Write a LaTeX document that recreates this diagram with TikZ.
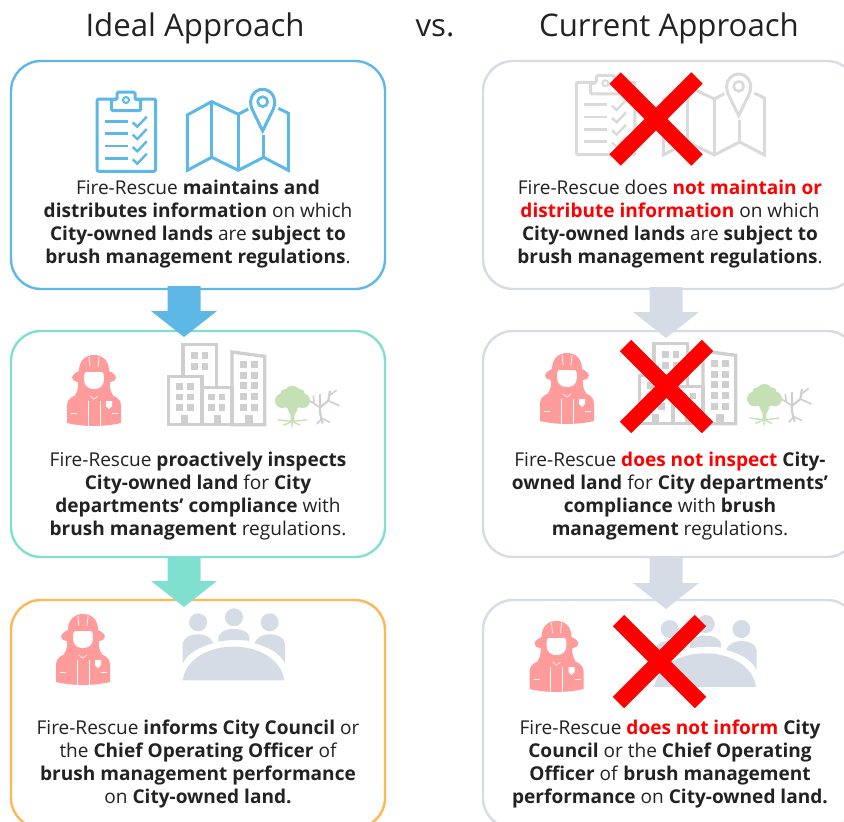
\documentclass[tikz,border=0pt]{standalone}
\usepackage{fontspec}
\setmainfont{Open Sans}
\usetikzlibrary{positioning, calc}

\definecolor{idealblue}{HTML}{5DB8E8}
\definecolor{idealteal}{HTML}{7FE0D0}
\definecolor{idealorange}{HTML}{FFB655}
\definecolor{slategrey}{HTML}{D6DCE5}
\definecolor{stonegrey}{HTML}{CFCFCF}
\definecolor{fadedgrey}{HTML}{DADADA}
\definecolor{firepink}{HTML}{FF9B9B}
\definecolor{treegreen}{HTML}{C5E0B4}
\definecolor{deadtree}{HTML}{D2CECE}
\definecolor{inktext}{HTML}{222222}

\newcommand{\bad}[1]{\textcolor{red}{\textbf{#1}}}

\tikzset{
  panel/.style={draw, rounded corners=30pt, line width=2.4pt, minimum width=374pt,
    minimum height=228pt, outer sep=0pt, fill=white},
  bodytext/.style={align=center, text=inktext, inner sep=0pt,
    font=\fontsize{19.05}{23}\selectfont},
  headline/.style={text=inktext, inner sep=0pt, font=\fontsize{31.2}{36}\selectfont},
  icon/.style={x=0.3333pt, y=-0.3333pt},
  blockdown/.pic={
    \fill[#1] (-16.5,0) -- (16.5,0) -- (16.5,25) -- (33,25) -- (0,51) -- (-33,25) -- (-16.5,25) -- cycle;
  },
  redcross/.pic={
    \draw[red, line width=16pt] (-41,-41) -- (41,41);
    \draw[red, line width=16pt] (-41,41) -- (41,-41);
  },
  clipboard/.pic={
    \draw[#1, line width=3pt, rounded corners=2pt] (4,25) rectangle (180,242);
    \draw[#1, fill=white, line width=3pt, rounded corners=1.5pt]
      (47,27) -- (47,60) -- (135,60) -- (135,27) -- (118,27) -- (118,4) -- (64,4) -- (64,27) -- cycle;
    \draw[#1, line width=2pt] (91,28) circle (9);
    \foreach \r in {0,1,2,3} {
      \draw[#1, line width=2.4pt] (28,{92+37*\r}) -- (96,{92+37*\r});
      \draw[#1, line width=2.4pt] (111,{95+37*\r}) -- (125,{108+37*\r}) -- (153,{78+37*\r});
    }
  },
  foldmap/.pic={
    \draw[#1, line width=3pt] (187,62) -- (157,78) -- (77,40) -- (4,80) -- (4,246) -- (77,207)
      -- (157,246) -- (233,207) -- (307,246) -- (307,75) -- (277,60);
    \draw[#1, line width=3pt] (77,40) -- (77,207);
    \draw[#1, line width=3pt] (157,78) -- (157,246);
    \draw[#1, line width=3pt] (233,140) -- (233,207);
    \draw[#1, line width=3pt] (230,128) -- (198,62) .. controls (185,30) and (205,3) .. (230,3)
      .. controls (255,3) and (275,30) .. (262,62) -- cycle;
    \draw[#1, line width=2.6pt] (230,40) circle (15);
  },
  fighter/.pic={
    % coat and hood
    \fill[firepink] (-27,33) -- (-27,15) .. controls (-27,8) and (-20,6) .. (-14,3) -- (14,3)
      .. controls (20,6) and (27,8) .. (27,15) -- (27,33) .. controls (10,37) and (-10,37) .. (-27,33);
    \fill[firepink] (-19,5) .. controls (-15,-1) and (-16,-5) .. (-16,-8) .. controls (-24,-9) and (-24,-15) .. (-15,-19)
      .. controls (-15,-30) and (-8,-35) .. (0,-35) .. controls (8,-35) and (15,-30) .. (15,-19)
      .. controls (24,-15) and (24,-9) .. (16,-8) .. controls (16,-5) and (15,-1) .. (19,5) -- cycle;
    % face and white details
    \fill[white] (-8,-18) -- (8,-18) .. controls (11,-17) and (10,-8) .. (9,-6) .. controls (7,-2) and (3,-1) .. (0,-1)
      .. controls (-3,-1) and (-7,-2) .. (-9,-6) .. controls (-10,-8) and (-11,-17) .. (-8,-18);
    \draw[white, line width=0.8pt] (-6,11) -- (-6,37);
    \draw[white, line width=0.4pt] (6,11) -- (6,37);
    \draw[white, line width=0.7pt] (-5,-33) -- (-4,-23);
    \draw[white, line width=0.7pt] (5,-33) -- (4,-23);
    \draw[white, line width=0.8pt] (-23,23) -- (-17,23);
    \draw[white, line width=0.8pt] (18,23) -- (24,23);
    \draw[white, line width=0.6pt] (-4,6) -- (0,9) -- (4,6);
    \fill[white] (12,11) -- (18,11) -- (18,16) -- (15,19) -- (12,16) -- cycle;
  },
  towers/.pic={
    \draw[stonegrey, line width=3.3pt] (48,100) -- (48,5) -- (148,5) -- (148,133);
    \draw[stonegrey, line width=3.3pt] (5,100) rectangle (105,245);
    \draw[stonegrey, line width=3.3pt] (105,133) rectangle (195,245);
    \draw[stonegrey, line width=3.3pt] (195,27) -- (293,40) -- (293,245) -- (195,245) -- cycle;
    \foreach \wx/\wy in {28/120,60/120,28/152,60/152,28/183,60/183,72/28,104/28,72/60,104/60,
      123/152,155/152,123/183,155/183,220/55,252/55,220/87,252/87,220/118,252/118,220/151,252/151,220/183,252/183} {
      \fill[stonegrey] (\wx,\wy) rectangle ++(20,20);
    }
    \foreach \wx in {42,140,235} {
      \fill[stonegrey] (\wx,215) rectangle ++(22,35);
    }
  },
  trees/.pic={
    % live tree
    \fill[treegreen] (22,45) circle (22);
    \fill[treegreen] (83,45) circle (22);
    \fill[treegreen] (52,24) circle (24);
    \fill[treegreen] (30,24) circle (14);
    \fill[treegreen] (75,24) circle (14);
    \fill[treegreen] (52,45) circle (28);
    \fill[treegreen] (38,70) -- (68,70) -- (58,90) -- (58,105) -- (47,105) -- (47,90) -- cycle;
    \foreach \rx/\ry in {8/102,25/118,50/124,75/118,97/102} {
      \draw[treegreen, line width=1.3pt] (52,98) .. controls (52,108) .. (\rx,\ry);
    }
    % dead tree
    \draw[deadtree, line width=2.2pt] (143,113) .. controls (140,100) and (133,85) .. (135,65) -- (160,45) -- (165,15);
    \draw[deadtree, line width=1.6pt] (135,65) -- (103,45);
    \draw[deadtree, line width=1.6pt] (118,55) -- (115,30);
    \draw[deadtree, line width=1.6pt] (135,65) -- (135,25);
    \draw[deadtree, line width=1.6pt] (160,45) -- (193,60);
    \draw[deadtree, line width=1.6pt] (163,30) -- (185,13);
    \draw[deadtree, line width=1.6pt] (141,98) -- (125,115);
    \draw[deadtree, line width=1.6pt] (141,98) -- (165,110);
  },
  meeting/.pic={
    \fill[slategrey] (0,216) .. controls (10,150) and (80,115) .. (152,115) .. controls (225,115) and (295,150) .. (305,216) -- cycle;
    \fill[slategrey] (46,42) circle (27);
    \fill[slategrey] (154,27) circle (27);
    \fill[slategrey] (261,42) circle (27);
    \fill[slategrey] (0,165) -- (0,105) .. controls (5,85) and (25,78) .. (46,78) .. controls (65,78) and (85,85) .. (92,105) .. controls (50,115) and (15,135) .. (0,165);
    \fill[slategrey] (107,100) -- (107,85) .. controls (115,68) and (130,62) .. (153,62) .. controls (175,62) and (195,68) .. (200,85) -- (200,98) .. controls (170,93) and (135,95) .. (107,100);
    \fill[slategrey] (307,165) -- (307,105) .. controls (302,85) and (282,78) .. (261,78) .. controls (242,78) and (222,85) .. (215,105) .. controls (257,115) and (292,135) .. (307,165);
  },
}

\begin{document}
\begin{tikzpicture}[x=1pt, y=-1pt]
\useasboundingbox (0,0) rectangle (844,822);
\clip (0,0) rectangle (844,822);

% Headings
\node[headline] (idealhead) at (195,28) {Ideal Approach};
\node[headline] (vshead) at (435,28) {vs.};
\node[headline] (currenthead) at (669,28) {Current Approach};

% Ideal column
\node[panel, draw=idealblue] (idealA) at (198,175) {};
\node[panel, draw=idealteal, minimum height=226pt] (idealB) at (198,444) {};
\node[panel, draw=idealorange] (idealC) at (198,714) {};
\pic at ($(idealA.south)+(-14,-3)$) {blockdown=idealblue};
\pic at ($(idealB.south)+(-14,-1)$) {blockdown=idealteal};

% Current column
\node[panel, draw=slategrey] (currentA) at (670,175) {};
\node[panel, draw=slategrey, minimum height=226pt] (currentB) at (670,444) {};
\node[panel, draw=slategrey] (currentC) at (670,714) {};
\pic at ($(currentA.south)+(-4,-2)$) {blockdown=slategrey};
\pic at ($(currentB.south)+(-4,1)$) {blockdown=slategrey};

% Icons, ideal side
\path (95.7,90.7) pic[icon] {clipboard=idealblue};
\path (186,88.3) pic[icon] {foldmap=idealblue};
\pic at (94,390) {fighter};
\path (167,343) pic[icon] {towers};
\path (275,385.7) pic[icon] {trees};
\pic at (83,649) {fighter};
\path (182.7,608.3) pic[icon] {meeting};

% Icons, current side
\path (575,74) pic[icon] {clipboard=fadedgrey};
\path (662,73) pic[icon] {foldmap=fadedgrey};
\pic at (567,388) {fighter};
\path (638,342) pic[icon] {towers};
\path (747,384) pic[icon] {trees};
\pic at (556.5,656) {fighter};
\path (654.4,615) pic[icon] {meeting};

% Crosses
\pic at (656,119) {redcross};
\pic at (666.5,386.5) {redcross};
\pic at (659.5,661.5) {redcross};

% Text, ideal side
\node[bodytext] (idealAtext) at (198,224.5) {Fire-Rescue \textbf{maintains and}\\ \textbf{distributes information} on which\\ \textbf{City-owned lands} are \textbf{subject to}\\ \textbf{brush management regulations}.};
\node[bodytext] (idealBtext) at (198,496) {Fire-Rescue \textbf{proactively inspects}\\ \textbf{City-owned land} for \textbf{City}\\ \textbf{departments' compliance} with\\ \textbf{brush management} regulations.};
\node[bodytext] (idealCtext) at (198,764) {Fire-Rescue \textbf{informs City Council} or\\ the \textbf{Chief Operating Officer} of\\ \textbf{brush management performance}\\ on \textbf{City-owned land.}};

% Text, current side
\node[bodytext] (currentAtext) at (670,224.5) {Fire-Rescue does \bad{not maintain or}\\ \bad{distribute information} on which\\ \textbf{City-owned lands} are \textbf{subject to}\\ \textbf{brush management regulations}.};
\node[bodytext] (currentBtext) at (670,496) {Fire-Rescue \bad{does not inspect} \textbf{City-}\\ \textbf{owned land} for \textbf{City departments'}\\ \textbf{compliance} with \textbf{brush}\\ \textbf{management} regulations.};
\node[bodytext] (currentCtext) at (670,764) {Fire-Rescue \bad{does not inform} \textbf{City}\\ \textbf{Council} or the \textbf{Chief Operating}\\ \textbf{Officer} of \textbf{brush management}\\ \textbf{performance} on \textbf{City-owned land.}};
\end{tikzpicture}
\end{document}
